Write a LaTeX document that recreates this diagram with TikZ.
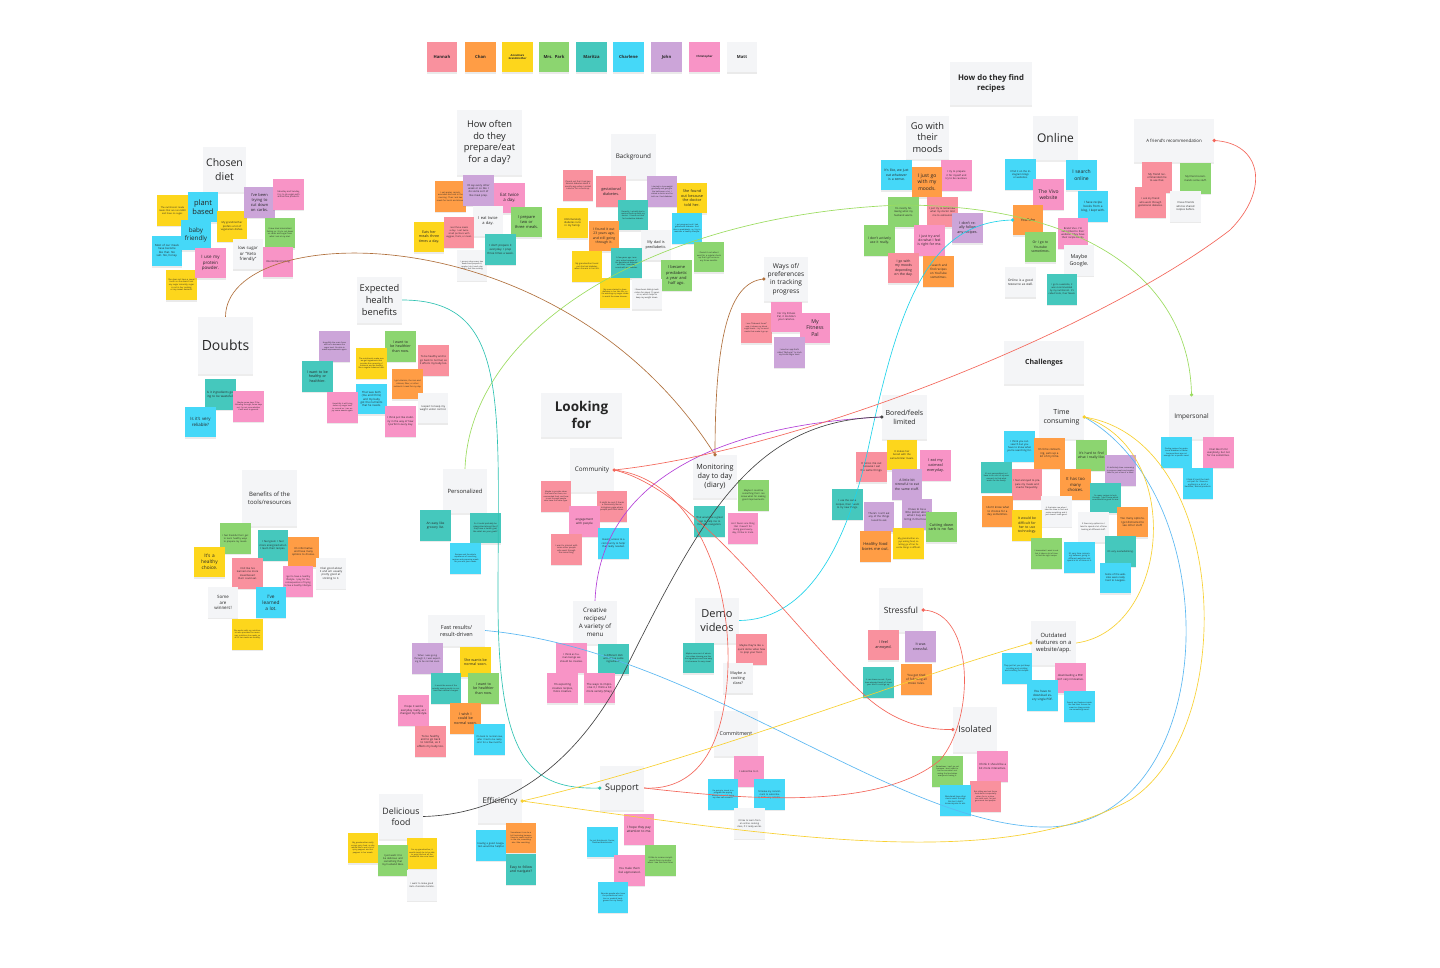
\documentclass[tikz,border=0pt]{standalone}
\usepackage{fontspec}
\setmainfont{Open Sans}
\usetikzlibrary{shadows}
\definecolor{cR}{HTML}{F9919E}
\definecolor{cO}{HTML}{FF9D45}
\definecolor{cY}{HTML}{FDD61C}
\definecolor{cG}{HTML}{8CD570}
\definecolor{cT}{HTML}{45C8BD}
\definecolor{cC}{HTML}{45D8F8}
\definecolor{cP}{HTML}{CCA5D9}
\definecolor{cK}{HTML}{F894C6}
\definecolor{cW}{HTML}{F4F5F7}
\definecolor{cH}{HTML}{F4F5F7}
\definecolor{ink}{HTML}{262626}
\definecolor{lBr}{HTML}{B0703C}
\definecolor{lGr}{HTML}{9BDC5E}
\definecolor{lTe}{HTML}{2EC2B2}
\definecolor{lCy}{HTML}{1ED3EA}
\definecolor{lPu}{HTML}{B440D8}
\definecolor{lBk}{HTML}{444444}
\definecolor{lRd}{HTML}{F4665A}
\definecolor{lBl}{HTML}{5AB8F2}
\definecolor{lYe}{HTML}{F8D030}
\newcommand\stick[6]{\node[note,fill=#2,fs=#5] (#1) at (#3,#4) {#6};}
\newcommand\hd[7]{\node[hdr,minimum width=#4pt,minimum height=#5pt,fs=#6] (#1) at (#2,#3) {#7};}
\begin{document}
\begin{tikzpicture}[x=1pt,y=-1pt,
  fs/.style={font=\fontsize{\fpeval{#1<2.5 ? 1.15*#1 : #1}}{\fpeval{#1<2.5 ? 1.45*#1 : 1.27*#1}}\selectfont},
  note/.style={minimum width=30.5pt,minimum height=30.5pt,inner sep=0.8pt,text width=27.5pt,align=center,text=ink,drop shadow={opacity=0.16,shadow xshift=0pt,shadow yshift=-1.3pt}},
  hdr/.style={fill=cH,align=center,inner sep=1pt,text=ink,drop shadow={opacity=0.14,shadow xshift=0pt,shadow yshift=-1.6pt}},
  con/.style={line width=0.65pt},
  cdot/.style={circle,fill,inner sep=0pt,minimum size=3.6pt}]
\fill[white] (0,0) rectangle (1440,967);
\useasboundingbox (0,0) rectangle (1440,967);

% legend
\stick{lg1}{cR}{442}{57}{4.2}{\bfseries Hannah}
\stick{lg2}{cO}{480.5}{57}{4.2}{\bfseries Chan}
\stick{lg3}{cY}{517.5}{57}{2.3}{\bfseries Annelina's Grandmother}
\stick{lg4}{cG}{554}{57}{4.2}{\bfseries Mrs. Park}
\stick{lg5}{cT}{591.5}{57}{4.2}{\bfseries Maritza}
\stick{lg6}{cC}{628.5}{57}{4.2}{\bfseries Charlene}
\stick{lg7}{cP}{666.5}{57}{4.2}{\bfseries John}
\stick{lg8}{cK}{704.5}{57}{2.4}{\bfseries Christopher}
\stick{lg9}{cW}{742}{57}{4.2}{\bfseries Matt}

% Chosen diet
\hd{chosen}{224.5}{169.5}{43}{45}{10.5}{Chosen\\diet}
\stick{cd1}{cY}{172.5}{210.5}{2}{The nutritionist made meals that are non-GMO and have no sugar.}
\stick{cd4}{cC}{167}{251}{2.4}{Most of our meals have become like that. No salt. No, honey.}
\stick{cd12}{cY}{181.5}{285}{1.8}{She does not have a sweet tooth so she doesn't eat any sugar naturally, sugar is not in her cooking or any sweet desserts.}
\stick{cd2}{cC}{203}{207}{7.5}{plant\\based}
\stick{cd3}{cC}{196}{235}{6.3}{baby\\friendly}
\stick{cd5}{cK}{210.5}{263}{4.5}{I use my protein powder.}
\stick{cd6}{cY}{232}{226.5}{2.6}{My grandmother prefers a lot of vegetarian dishes.}
\stick{cd7}{cP}{259.5}{202.5}{4}{I've been trying to cut down on carbs.}
\stick{cd8}{cK}{288.5}{194.5}{1.9}{Saturday and Sunday, I try to do vegan with animal-free products.}
\stick{cd10}{cG}{280}{233}{1.8}{I have tried intermittent fasting so I try to cut down on carbs and sugar from what I eat at my diet.}
\stick{cd9}{cW}{248}{254}{4.3}{low sugar or ``Keto friendly''}
\stick{cd11}{cK}{278}{262}{2.6}{Intermittent fasting}

% How often
\hd{howoft}{489.5}{142.5}{65}{65}{9.3}{How often\\do they\\prepare/eat\\for a day?}
\stick{ho1}{cO}{450.5}{196.5}{1.8}{I eat apples, carrots, avocados and oats in the morning. Then I eat two meals for lunch and dinner.}
\stick{ho2}{cP}{478.5}{190.5}{2.6}{I'd say every other week or so like I do some sort of like meal prep.}
\stick{ho3}{cK}{509.5}{198}{4.4}{Eat twice a day.}
\stick{ho5}{cW}{488}{221}{4}{I eat twice a day.}
\stick{ho4}{cG}{526.5}{222}{4}{I prepare two or three meals.}
\stick{ho6}{cY}{429}{237}{3.6}{Eats her meals three times a day.}
\stick{ho7}{cR}{459}{232.5}{2}{I eat three meals a day. I eat twice small portions with veggies, fruits, or meat.}
\stick{ho9}{cW}{472}{265.5}{1.7}{I grocery shop every two weeks and prepare it, maybe I do it each day when I feel like cooking.}
\stick{ho8}{cT}{500.5}{249.5}{2.8}{I don't prepare it everyday. I prep three times a week.}

% Background
\hd{backg}{633.5}{156.5}{45}{45}{6.3}{Background}
\stick{bg1}{cR}{578}{185.5}{1.8}{I found out that I had gestational diabetes about 6 months ago when I visited a doctor for a check up.}
\stick{bg2}{cR}{611}{191.5}{3.8}{gestational diabetes.}
\stick{bg3}{cP}{662}{191.5}{1.7}{I started to lose weight gradually and going to the bathroom a lot. I visited a doctor and he told me I had diabetes.}
\stick{bg4}{cY}{692}{198}{3.8}{She found out because the doctor told her.}
\stick{bg5}{cT}{633}{215}{1.7}{Recently, I actually had a routine check-up with my doctor. I found out that I'm borderline diabetic.}
\stick{bg6}{cY}{572.5}{223}{2.6}{Unfortunately diabetes runs in my family.}
\stick{bg7}{cO}{604}{236}{3.4}{I found it out 23 years ago, and still going through it.}
\stick{bg9}{cC}{687}{228.5}{1.7}{I got pregnant and I had gestational diabetes. And then a prediabetic, so I try to maintain a healthy lifestyle.}
\stick{bg8}{cW}{656}{245}{3.8}{My dad is prediabetic.}
\stick{bg10}{cG}{709}{257}{1.8}{I found it out when I went for a regular check up that I get once every three months.}
\stick{bg11}{cY}{587}{266.5}{1.8}{My grandmother found out she had diabetes when she was in her 60s.}
\stick{bg12}{cT}{626.5}{263}{1.7}{A few years ago I was very active because of the gestational diabetes and then I was diagnosed with prediabetes.}
\stick{bg13}{cG}{676.5}{275.5}{4}{I became prediabetic a year and half ago.}
\stick{bg14}{cY}{615}{293}{1.7}{My mom started to have diabetes in her late 50s, so I'm watching my sugar intake to avoid the same disease.}
\stick{bg15}{cW}{647}{294}{1.8}{I have been taking medication for about 15 years or so, which helps to keep my weight down.}

% How do they find recipes
\hd{find}{991}{83.5}{82}{43}{7.8}{\bfseries How do they find\\\bfseries recipes}

% Go with their moods
\hd{moods}{927.5}{137.5}{43}{43}{9.3}{Go with\\their\\moods}
\stick{gm1}{cC}{896.5}{175}{3.4}{It's like, we just eat whatever is a sense.}
\stick{gm3}{cK}{956.5}{175.5}{2.2}{I try to prepare it for myself and try to be cautious.}
\stick{gm2}{cO}{927}{182}{5}{I just go with my moods.}
\stick{gm4}{cG}{903.5}{212}{2.2}{I'm mostly following what my husband wants.}
\stick{gm5}{cR}{942.5}{212}{2.2}{I just try to remember what my doctor told me to eat/avoid.}
\stick{gm6}{cP}{967.5}{228}{3.6}{I don't really follow any recipes.}
\stick{gm7}{cG}{879.5}{240.5}{3.4}{I don't actively use it really.}
\stick{gm8}{cK}{929.5}{240.5}{3.4}{I just try and do what I feel is right for me.}
\stick{gm9}{cR}{903.5}{268}{3.4}{I go with my moods depending on the day.}
\stick{gm10}{cO}{938.5}{271.5}{3}{I search and find recipes on YouTube sometimes.}

% Online
\hd{online}{1055.5}{138}{45}{44}{12}{Online}
\stick{on1}{cC}{1020.5}{174.5}{2.2}{I find it on the Instagram blogs or websites.}
\stick{on3}{cC}{1081.5}{175}{5}{I search online}
\stick{on2}{cK}{1048.5}{194.5}{5}{The Vivo website}
\stick{on4}{cC}{1093}{206.5}{3}{I have recipe books from a blog, I kept with.}
\stick{on5}{cO}{1028}{220}{3.6}{YouTube}
\stick{on6}{cK}{1073}{233.5}{2.2}{Brand Vivo. I'm subscribed to their website. They have their recipe books.}
\stick{on7}{cG}{1040.5}{247}{3.4}{Or I go to Youtube sometimes.}
\stick{on8}{cW}{1079}{260.5}{5.3}{Maybe Google.}
\stick{on9}{cW}{1020.5}{282}{3.2}{Online is a good resource as well.}
\stick{on10}{cT}{1062}{289.5}{2}{I go to a website, it was recommended by my nutritionist. It's called Sixtis, their Meals.}

% Friend's recommendation
\hd{friend}{1174}{140.5}{80}{43}{4.4}{A friend's recommendation}
\stick{fr1}{cR}{1157}{177.5}{2.3}{My friend recommended me to use that.}
\stick{fr2}{cG}{1195.5}{178.5}{2.5}{My friend recommends some stuff.}
\stick{fr3}{cR}{1150.5}{202.5}{2.5}{I ask my friend who went through gestational diabetes.}
\stick{fr4}{cW}{1185.5}{206.5}{2.3}{I have friends who've shared recipes before.}

% Expected health benefits
\hd{expect}{379.5}{300}{45}{46}{9.3}{Expected\\health\\benefits}
\stick{eh1}{cP}{334.5}{346.5}{1.7}{Hopefully the main focus will be to decrease the sugar level. Be able to make improvements again.}
\stick{eh2}{cG}{400.5}{346.5}{3.6}{I want to be healthier than now.}
\stick{eh3}{cY}{371.5}{363.5}{1.7}{The nutritionist made sure we get ingredients that provide the necessity of nutrients and be healthy like a regular balanced diet.}
\stick{eh4}{cR}{433.5}{360.5}{2.6}{To be healthy and to go back to normal, as it affects my baby too.}
\stick{eh5}{cT}{317.5}{376.5}{3.6}{I want to be healthy or healthier.}
\stick{eh6}{cO}{407.5}{384}{1.8}{I get vitamins, the iron and calcium, fiber, or other nutrients I need for my day.}
\stick{eh7}{cC}{371.5}{399}{2.4}{That was both (me and Chris) and my baby got the nutrients that he needs.}
\stick{eh8}{cK}{342.5}{407.5}{1.7}{Hopefully it will bring down my sugar level to normal so I can enjoy some sweets again.}
\stick{eh9}{cW}{433}{408}{2.6}{I expect to keep my weight under control.}
\stick{eh10}{cK}{400.5}{421.5}{2.6}{I think just like stability in the way of how I perform every day.}

% Doubts
\hd{doubts}{225.5}{345.5}{55}{57}{14}{Doubts}
\stick{db1}{cT}{220.5}{394.5}{3}{Is it ingredients going to be wasteful?}
\stick{db2}{cK}{248.5}{406.5}{1.7}{Maybe some days I'll be following through, some days not, I'm not sure whether it will work in general.}
\stick{db3}{cC}{200.5}{422}{4.4}{Is it's very reliable?}

% Ways of tracking
\hd{ways}{786}{279}{44}{44}{6.6}{Ways of/\\preferences\\in tracking\\progress}
\stick{wy1}{cR}{756.5}{328}{1.7}{I use ``Diabeach Smart'' app, it shows my blood sugar levels. I try to avoid meals that made it go up.}
\stick{wy2}{cK}{786.5}{317}{2.6}{For my Fitness Pal, it monitors your calories.}
\stick{wy3}{cK}{815}{328}{5.3}{My\\Fitness\\Pal}
\stick{wy4}{cP}{789.5}{352.5}{1.8}{I used an app that's called ``MySugar'' to track my blood sugar level.}

% Looking for
\hd{looking}{581.5}{415}{81}{44}{13.5}{\bfseries Looking\\\bfseries for}

% Community
\hd{comm}{592}{470}{44}{44}{6.3}{Community}
\stick{cm1}{cR}{556}{496.5}{1.7}{Maybe to provide ideas that work for them, recommended food, and how to eat through people who have the same type.}
\stick{cm2}{cR}{612}{506.5}{1.8}{It might be cool if there's a community like an Instagram page where people post their ideas.}
\stick{cm3}{cK}{584.5}{521.5}{3}{engagement with people}
\stick{cm4}{cR}{566.5}{549.5}{1.8}{I want to interact with some other people who went through the same thing.}
\stick{cm5}{cC}{613.5}{543.5}{2.2}{Having access to a community to help/ that really needed.}

% Personalized
\hd{pers}{465}{491}{44}{44}{5.8}{Personalized}
\stick{ps1}{cT}{435.5}{525.5}{3.2}{An easy like grocery list.}
\stick{ps2}{cT}{485.5}{528}{1.8}{So it could probably be categorized almost like if they have a health goal, like what are your goals?}
\stick{ps3}{cC}{465.5}{558.5}{1.7}{Recipes and the whole experience of searching recipes and preparing meals for you and your needs.}

% Benefits
\hd{benef}{269.5}{498}{55}{56}{6}{Benefits of the\\tools/resources}
\stick{bf1}{cG}{235.5}{538.5}{2}{I feel thankful that I get to learn healthy ways to prepare my meals.}
\stick{bf2}{cT}{273}{545.5}{2.6}{I feel good. I feel more energized when I learn their recipes.}
\stick{bf3}{cO}{303.5}{552}{2.6}{It's informative and have many options to choose.}
\stick{bf4}{cY}{209.5}{562}{4.8}{It's a\\healthy\\choice.}
\stick{bf5}{cR}{247.5}{573.5}{2.2}{I felt like I've learned one more meal/dessert that I could eat.}
\stick{bf6}{cK}{298}{581.5}{2}{I get to have a healthy lifestyle. I pay for the consequences of trying to live a healthy lifestyle.}
\stick{bf7}{cW}{331}{573.5}{2.4}{I feel good about it and am usually pretty good at sticking to it.}
\stick{bf8}{cW}{223}{602.5}{4.4}{Some\\are\\winners!}
\stick{bf9}{cC}{271}{602.5}{4.8}{I've\\learned\\a lot.}
\stick{bf10}{cY}{247.5}{634.5}{1.7}{She works with my nutritionist who provides the necessary nutrition she needs, so all of her meals are healthy.}

% Monitoring
\hd{mon}{715}{476.5}{44}{43}{7.2}{Monitoring\\day to day\\(diary)}
\stick{mo1}{cT}{709.5}{521.5}{2.2}{That would be a great app to help me to facilitate navigation.}
\stick{mo2}{cG}{753.5}{495.5}{2}{Maybe it could be something that I can know what I'm making good improvements.}
\stick{mo3}{cK}{743}{528.5}{2}{As it favors one thing that I haven't for doing good everyday, I'd like to track.}

% Challenges
\hd{chall}{1044}{362.5}{80}{43}{7}{\bfseries Challenges}

% Bored
\hd{bored}{904.5}{417}{45}{44}{7}{Bored/feels\\limited}
\stick{bo2}{cR}{871.5}{467}{2.4}{It bores me out because I eat the same things.}
\stick{bo1}{cY}{902}{455}{2.2}{It makes her bored with the same/similar meals.}
\stick{bo3}{cK}{935.5}{465.5}{3.8}{I eat my oatmeal everyday.}
\stick{bo4}{cP}{907}{484.5}{3.4}{A little bit stressful to eat the same stuff.}
\stick{bo5}{cT}{847.5}{504.5}{2.2}{I use the same recipes, then I want to try new things.}
\stick{bo6}{cP}{879}{517}{2.6}{There's I can't eat any of the things I used to eat.}
\stick{bo7}{cP}{917}{514.5}{2.4}{I have to be a little pickier about what I buy and bring in the house.}
\stick{bo8}{cG}{941.5}{527}{3.8}{Cutting down carb is no fun.}
\stick{bo9}{cO}{875.5}{546.5}{4}{Healthy food bores me out.}
\stick{bo10}{cY}{908.5}{543.5}{1.9}{My grandmother enjoys eating food, so letting go of her favorite things is difficult.}

% Time consuming
\hd{tcons}{1061.5}{417}{45}{44}{7}{Time\\consuming}
\stick{tc1}{cC}{1019.5}{446.5}{2.2}{I think you can search but you have to know what you're searching for.}
\stick{tc2}{cO}{1049.5}{453.5}{2.8}{It's time consuming, eats up a lot of my time.}
\stick{tc3}{cG}{1091.5}{455.5}{3.4}{It's hard to find what I really like.}
\stick{tc4}{cP}{1120.5}{470.5}{1.7}{It's definitely time consuming to prepare meals and vegetables for just a few of a meal.}
\stick{tc5}{cT}{996.5}{477.5}{1.7}{It's not personalized, so I have to do a lot of my own research to find what works for the family.}
\stick{tc6}{cR}{1027}{484.5}{2.6}{I feel annoyed to prepare my meals and snacks frequently.}
\stick{tc7}{cO}{1075.5}{484.5}{4.2}{It has too many choices.}
\stick{tc8}{cT}{1105.5}{498}{1.7}{So many recipes to look through, I don't know which ones would be good for me.}
\stick{tc9}{cO}{997.5}{511.5}{2.4}{I don't know what to choose for a day sometimes.}
\stick{tc10}{cW}{1056.5}{511.5}{1.7}{It frustrates me when I take the time to find and make something and it just doesn't taste good.}
\stick{tc11}{cY}{1027}{525.5}{3.4}{It would be difficult for her to use technology.}
\stick{tc12}{cW}{1093.5}{527}{1.8}{It have any options so I tend to spend a lot of time looking at different stuff.}
\stick{tc13}{cO}{1132.5}{522}{2.4}{Too many options. I get distracted to see other stuff.}
\stick{tc14}{cG}{1046.5}{553.5}{1.7}{I know what I want to eat but it takes a lot of time to find the right recipe.}
\stick{tc15}{cC}{1079.5}{557.5}{1.8}{It's very time consuming between going to different websites and spend a lot of time on it.}
\stick{tc16}{cT}{1120.5}{551.5}{2.1}{It's very overwhelming.}
\stick{tc17}{cC}{1115.5}{578}{2.5}{Some of the websites were really hard to navigate.}

% Impersonal
\hd{imp}{1191.5}{417}{45}{44}{6.5}{Impersonal}
\stick{ip1}{cC}{1176.5}{452.5}{1.7}{Finding recipes for gestational diabetes is harder because there are not enough for a specific need.}
\stick{ip2}{cK}{1218.5}{452.5}{2.2}{I feel like it's for everybody, but not for me sometimes.}
\stick{ip3}{cC}{1198}{483.5}{1.8}{I think it's just the hardest part so I have everything in a bit of a healthier, animal products.}

% Fast results
\hd{fast}{456.5}{630.5}{57}{31}{5.5}{Fast results/\\result-driven}
\stick{fs1}{cP}{427.5}{658.5}{2}{When I was going through it, I was expecting to be normal soon.}
\stick{fs2}{cY}{475.5}{662}{3.6}{She wants be normal soon.}
\stick{fs3}{cT}{446}{688.5}{1.7}{It would be more of the actually seeing results in contrast that medical changes.}
\stick{fs4}{cG}{483.5}{688.5}{3.6}{I want to be healthier than now.}
\stick{fs5}{cK}{413.5}{710.5}{2.4}{I hope it works everyday really, as I changed my lifestyle.}
\stick{fs6}{cO}{465.5}{718.5}{3.6}{I wish I could be normal soon.}
\stick{fs7}{cR}{430.5}{741.5}{2.4}{To be healthy and to go back to normal, as it affects my baby too.}
\stick{fs8}{cC}{489.5}{739.5}{2}{I'm back to normal now, after I had to be really strict for a few months.}

% Creative
\hd{cre}{595}{622.5}{44}{43}{6.2}{Creative\\recipes/\\A variety of\\menu}
\stick{cr1}{cK}{571.5}{658}{2.2}{I think as human beings we should be creative.}
\stick{cr2}{cT}{613.5}{659}{2.6}{A different dish with those same ingredients.}
\stick{cr3}{cK}{562.5}{688}{2.4}{I'm expecting creative recipes, more creative.}
\stick{cr4}{cK}{599.5}{688}{2.4}{The ways to improvise it, I think a bit more variety (Shay).}

% Demo videos
\hd{demo}{717}{620.5}{44}{45}{11}{Demo\\videos}
\stick{dv1}{cT}{698.5}{658}{1.7}{Maybe some sort of education video showing me like the ingredients and how easy it is because I'm very visual.}
\stick{dv2}{cR}{751.5}{649.5}{2.2}{Maybe they're like a quick demo video how to prep your food.}
\stick{dv3}{cW}{738}{678}{3.8}{Maybe a\\cooking\\class?}

% Commitment
\hd{commit}{736}{733.5}{44}{45}{5.3}{Commitment}
\stick{co1}{cK}{749}{771.5}{2.2}{I subscribe to it.}
\stick{co2}{cC}{723}{794.5}{1.7}{I'm going to invest in a program like paying money instead of doing my own self research.}
\stick{co3}{cC}{769.5}{794.5}{2}{I'd make my commitment to subscribe it, if it's very reliable.}
\stick{co4}{cW}{749.5}{823.5}{2}{I'd like to learn from an online cooking class, if it really works.}

% Support
\hd{sup}{622}{788}{44}{44}{9}{Support}
\stick{su1}{cC}{602.5}{842}{1.7}{So just Nutritionist, Doctor, Dietitian/Nutritionists.}
\stick{su2}{cK}{639}{829.5}{3.2}{I hope they pay attention to me.}
\stick{su3}{cG}{660.5}{860.5}{1.8}{I'd like to receive compliments from my doctor when I see him next time.}
\stick{su4}{cK}{629.5}{870.5}{2.8}{You make them feel appreciated.}
\stick{su5}{cC}{613}{897.5}{1.7}{Educate people who have the professional nutrition or medical background for my family.}

% Efficiency
\hd{eff}{500}{801}{44}{44}{8}{Efficiency}
\stick{ef1}{cC}{491}{845.5}{2.2}{Having a good navigation would be helpful.}
\stick{ef2}{cO}{521}{838}{1.7}{Sometimes it can be a bit frustrating because I have to search and be in the site, something else I like searching.}
\stick{ef3}{cT}{521}{869.5}{3.4}{Easy to follow and navigate?}

% Delicious food
\hd{del}{401}{816.5}{44}{45}{8.8}{Delicious\\food}
\stick{df1}{cY}{363}{848}{1.7}{My grandmother really enjoys spicy food, so she would like to eat a lot of spicy peppers and hot peppers in her meals.}
\stick{df3}{cY}{422}{853.5}{1.7}{For my grandmother, it would simply be to be able to enjoy and eat all the traditional she once loved.}
\stick{df2}{cG}{393}{860.5}{2.2}{I just want it to be delicious and something that my husband likes.}
\stick{df4}{cW}{422}{885.5}{2}{I want to make good Keto chocolate bombs.}

% Stressful
\hd{stress}{901}{610}{44}{44}{8.5}{Stressful}
\stick{st1}{cR}{883.5}{645}{3.8}{I feel\\annoyed.}
\stick{st2}{cP}{920.5}{646.5}{3.6}{It was\\stressful.}
\stick{st3}{cT}{878.5}{682.5}{1.7}{It can stress me out. If you have elevated levels of stress your HbA1c could go up.}
\stick{st4}{cO}{916.5}{679.5}{3}{You get tired of following all those rules.}

% Outdated features
\hd{outd}{1053.5}{643}{45}{44}{5.8}{Outdated\\features on a\\website/app.}
\stick{od1}{cC}{1017}{668.5}{1.8}{They just let you just keep scrolling and scrolling and scrolling for recipes.}
\stick{od2}{cK}{1070.5}{678}{2.4}{downloading a PDF isn't very innovative.}
\stick{od3}{cC}{1042.5}{695.5}{3}{You have to download every single PDF.}
\stick{od4}{cC}{1079.5}{706.5}{1.7}{Search and features inside the feel their forums be smart so they provide me something smart.}

% Isolated
\hd{iso}{975}{729.5}{44}{45}{9}{Isolated}
\stick{is1}{cG}{947.5}{771.5}{1.7}{Sometimes I can't go out because I don't want to be the one who's not eating the food when everyone's having it.}
\stick{is2}{cK}{992.5}{766.5}{2.8}{I think it should be a bit more interactive.}
\stick{is4}{cR}{985.5}{796.5}{1.7}{But sitting and eat those food alone is especially when I'm in a situation with such, I'm just gonna eat less people.}
\stick{is3}{cC}{955.5}{800.5}{1.8}{Wondered how other moms went through this but I didn't know anyone to ask.}

% ---------------- connectors ----------------
\draw[con,lBr] (doubts.north) .. controls (226,220) and (560,210) .. (mon.north);
\draw[con,lBr] (ways.west) .. controls (728,282) and (715,340) .. (mon.north);
\node[cdot,lBr] (dmon) at (mon.north) {};
\node[cdot,lBr] (dways) at (ways.west) {};

\draw[con,lGr] (pers.north) .. controls (470,330) and (650,215) .. (900,205) .. controls (1100,205) and (1190,290) .. (imp.north);
\node[cdot,lGr] (dimp) at (imp.north) {};

\draw[con,lTe] (expect.east) .. controls (510,300) and (498,400) .. (498,600) .. controls (498,760) and (530,790) .. (sup.west);
\node[cdot,lTe] (dsup) at (sup.west) {};

\draw[con,lCy] (on5.west) .. controls (930,222) and (900,300) .. (870,440) .. controls (845,560) and (800,620) .. (demo.east);
\node[cdot,lCy] (dyt) at (on5.west) {};

\draw[con,lPu] (bored.west) .. controls (720,425) and (600,480) .. (cre.north);
\draw[con,lBk] (bored.west) .. controls (750,420) and (700,520) .. (620,680) .. controls (560,790) and (480,815) .. (del.east);
\node[cdot,lBk] (dbored) at (bored.west) {};

\draw[con,lRd] (comm.east) .. controls (800,450) and (1100,330) .. (1230,230) .. controls (1270,190) and (1262,143) .. (friend.east);
\draw[con,lRd] (comm.east) .. controls (700,480) and (740,600) .. (725,700) .. controls (715,770) and (680,790) .. (sup.east);
\draw[con,lRd] (comm.east) .. controls (700,490) and (800,640) .. (870,700) .. controls (900,725) and (930,730) .. (iso.west);
\draw[con,lRd] (sup.east) .. controls (750,800) and (880,810) .. (940,760) .. controls (975,720) and (975,612) .. (stress.east);
\node[cdot,lRd] (dcomm) at (comm.east) {};
\node[cdot,lRd] (dfriend) at (friend.east) {};
\node[cdot,lRd] (diso) at (iso.west) {};
\node[cdot,lRd] (dstress) at (stress.east) {};

\draw[con,lBl] (fast.east) .. controls (700,650) and (900,830) .. (1050,827) .. controls (1220,820) and (1230,500) .. (tcons.east);

\draw[con,lYe] (eff.east) .. controls (700,760) and (900,680) .. (outd.west);
\draw[con,lYe] (outd.east) .. controls (1170,630) and (1185,450) .. (tcons.east);
\draw[con,lYe] (eff.east) .. controls (800,840) and (1000,870) .. (1130,800) .. controls (1240,730) and (1230,440) .. (tcons.east);
\node[cdot,lYe] (deff) at (eff.east) {};
\node[cdot,lYe] (dod) at (outd.west) {};
\node[cdot,lYe] (dtc) at (tcons.east) {};
\end{tikzpicture}
\end{document}
